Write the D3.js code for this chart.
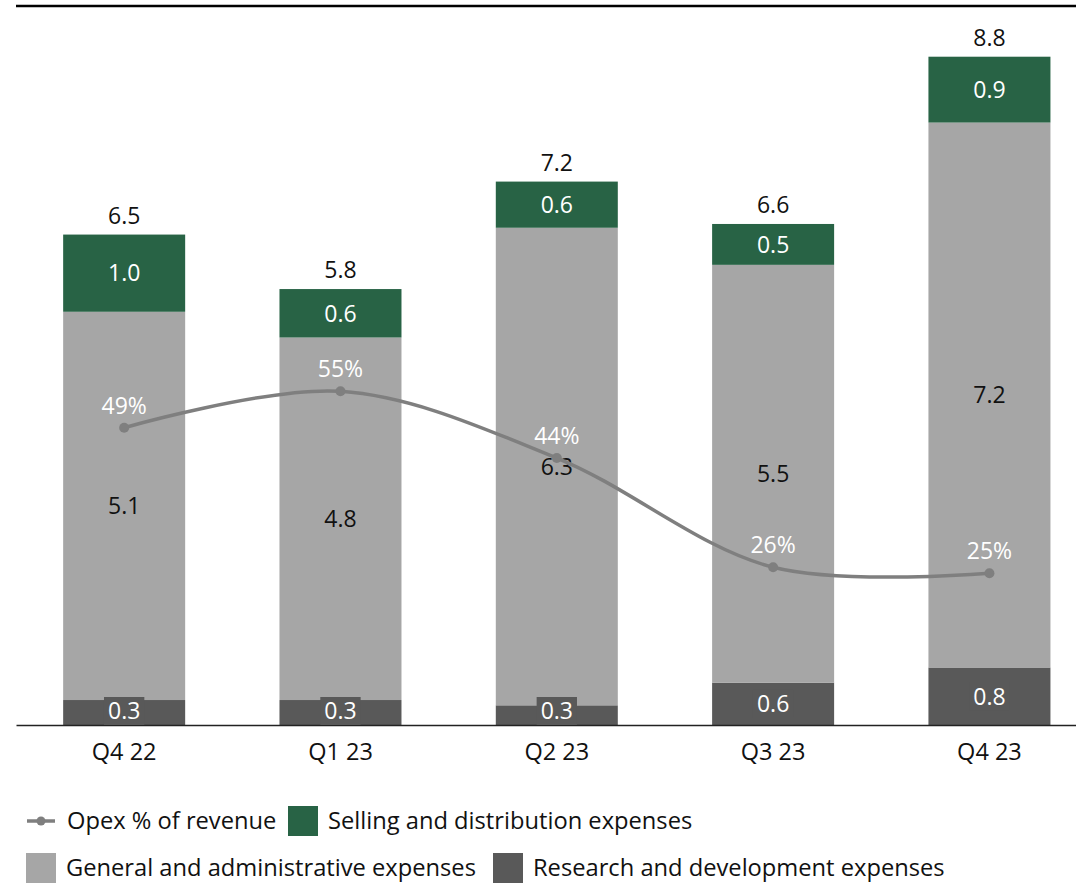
<!DOCTYPE html>
<html>
<head>
<meta charset="utf-8">
<script src="https://cdn.jsdelivr.net/npm/d3@7"></script>
<style>
  html, body { margin: 0; padding: 0; background: #ffffff; }
  svg { display: block; font-family: "Open Sans", "Lato", sans-serif; }
</style>
</head>
<body>
<svg id="chart" width="1076" height="885"></svg>
<script>
// Quarterly operating expenses (billions) and opex as % of revenue
const categories = ["Q4 22", "Q1 23", "Q2 23", "Q3 23", "Q4 23"];
const researchValues = [0.33, 0.33, 0.26, 0.56, 0.76];
const adminValues = [5.13, 4.79, 6.31, 5.52, 7.20];
const sellingValues = [1.02, 0.64, 0.61, 0.54, 0.87];
const opexPercent = [49, 55, 44, 26, 25];

const seriesKeys = ["research", "admin", "selling"];
const seriesLabels = {
  research: "Research and development expenses",
  admin: "General and administrative expenses",
  selling: "Selling and distribution expenses",
  opex: "Opex % of revenue"
};
const colors = {
  research: "#595959",
  admin: "#a6a6a6",
  selling: "#286345",
  line: "#7f7f7f"
};
const labelColors = { research: "#ffffff", admin: "#111111", selling: "#ffffff" };
const fontFamily = "'Open Sans', Lato, sans-serif";
const valueSize = 23;

const rows = categories.map((c, i) => ({
  category: c,
  research: researchValues[i],
  admin: adminValues[i],
  selling: sellingValues[i],
  opex: opexPercent[i]
}));

const svg = d3.select("#chart");
const baseY = 725, topY = 6, left = 16, right = 1097.6;

const x = d3.scaleBand().domain(categories).range([left, right])
  .paddingInner(0.436).paddingOuter(0.218);
const y = d3.scaleLinear().domain([0, 9.5]).range([baseY, topY]);
const y2 = d3.scaleLinear().domain([0, 118.5]).range([baseY, topY]);
const fmt = d3.format(".1f");

// top rule
svg.append("line")
  .attr("x1", left).attr("x2", 1076).attr("y1", topY).attr("y2", topY)
  .attr("stroke", "#000").attr("stroke-width", 2.5);

const stacked = d3.stack().keys(seriesKeys)(rows);

// stacked bars
const layers = svg.append("g").selectAll("g").data(stacked).join("g")
  .attr("fill", d => colors[d.key]);
layers.selectAll("rect").data(d => d).join("rect")
  .attr("x", d => x(d.data.category))
  .attr("width", x.bandwidth())
  .attr("y", d => y(d[1]))
  .attr("height", d => y(d[0]) - y(d[1]));

// x axis with baseline
const xAxis = svg.append("g").attr("transform", `translate(0,${baseY})`)
  .call(d3.axisBottom(x).tickSize(0).tickPadding(18));
xAxis.select(".domain").attr("stroke", "#222").attr("stroke-width", 1.5);
xAxis.selectAll("text").attr("font-size", 23.5).attr("fill", "#111")
  .attr("font-family", fontFamily);

// segment value labels
const segLabels = svg.append("g");
stacked.forEach(layer => {
  layer.forEach(d => {
    const cx = x(d.data.category) + x.bandwidth() / 2;
    let cy = (y(d[0]) + y(d[1])) / 2;
    if (layer.key === "research") cy = Math.min(cy, baseY - 14);
    const g = segLabels.append("g");
    const t = g.append("text")
      .attr("x", cx).attr("y", cy).attr("dy", "0.36em")
      .attr("text-anchor", "middle").attr("font-size", valueSize)
      .attr("fill", labelColors[layer.key])
      .text(fmt(d[1] - d[0]));
    if (layer.key === "research") {
      const bb = t.node().getBBox();
      g.insert("rect", "text")
        .attr("x", bb.x - 4).attr("width", bb.width + 8)
        .attr("y", cy - 14).attr("height", 28)
        .attr("fill", colors.research);
    }
  });
});

// totals above bars
svg.append("g").selectAll("text").data(rows).join("text")
  .attr("x", d => x(d.category) + x.bandwidth() / 2)
  .attr("y", d => y(d.research + d.admin + d.selling) - 11)
  .attr("text-anchor", "middle").attr("font-size", valueSize).attr("fill", "#111")
  .text(d => fmt(d.research + d.admin + d.selling));

// opex % line
const cxOf = d => x(d.category) + x.bandwidth() / 2;
const line = d3.line().x(cxOf).y(d => y2(d.opex)).curve(d3.curveCatmullRom.alpha(0.5));
svg.append("path").datum(rows)
  .attr("d", line).attr("fill", "none")
  .attr("stroke", colors.line).attr("stroke-width", 3.5);
svg.append("g").selectAll("circle").data(rows).join("circle")
  .attr("cx", cxOf).attr("cy", d => y2(d.opex)).attr("r", 5)
  .attr("fill", colors.line);
svg.append("g").selectAll("text").data(rows).join("text")
  .attr("x", cxOf).attr("y", d => y2(d.opex) - 14)
  .attr("text-anchor", "middle").attr("font-size", valueSize).attr("fill", "#ffffff")
  .text(d => d.opex + "%");

// legend
const legend = svg.append("g").attr("font-size", 23.7).attr("fill", "#111");
function swatch(xp, cy, key) {
  legend.append("rect").attr("x", xp).attr("y", cy - 15)
    .attr("width", 30).attr("height", 30).attr("fill", colors[key]);
  legend.append("text").attr("x", xp + 40).attr("y", cy).attr("dy", "0.35em")
    .text(seriesLabels[key]);
}
// line entry
legend.append("line").attr("x1", 27).attr("x2", 55).attr("y1", 821).attr("y2", 821)
  .attr("stroke", colors.line).attr("stroke-width", 3.5);
legend.append("circle").attr("cx", 41).attr("cy", 821).attr("r", 4.5).attr("fill", colors.line);
legend.append("text").attr("x", 67).attr("y", 821).attr("dy", "0.35em").text(seriesLabels.opex);
swatch(288, 821, "selling");
swatch(26, 868, "admin");
swatch(493, 868, "research");
</script>
</body>
</html>
